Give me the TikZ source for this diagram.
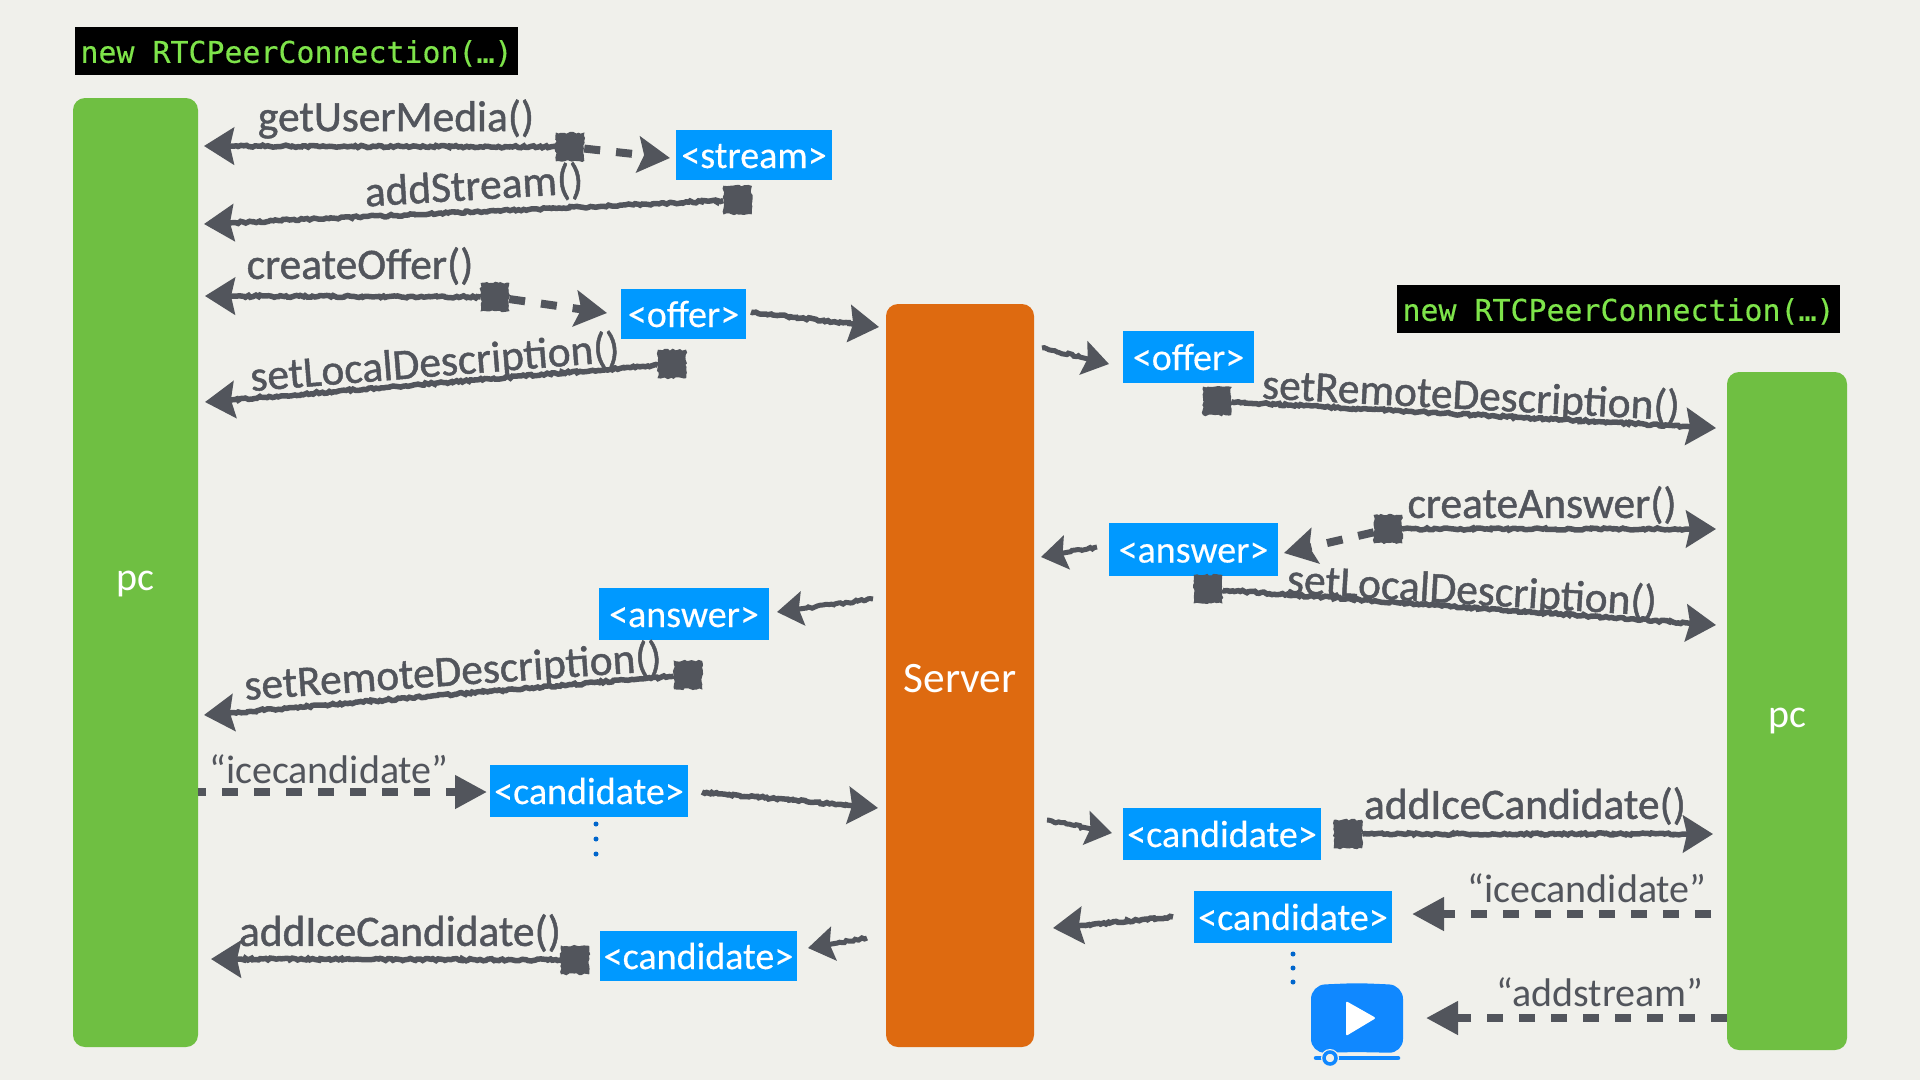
\documentclass[tikz,border=0pt]{standalone}
\usepackage{fontspec}
\setmainfont{Carlito}
\newfontfamily\labfont[RawFeature={embolden=1.1}]{Carlito}
\newfontfamily\msgfont[RawFeature={embolden=0.3}]{Carlito}
\newfontfamily\codefont[RawFeature={embolden=0.4}]{DejaVu Sans Mono}
\usetikzlibrary{arrows.meta,decorations.pathmorphing}
\definecolor{bgc}{RGB}{240,240,235}
\definecolor{pcgreen}{RGB}{111,191,66}
\definecolor{srv}{RGB}{222,106,16}
\definecolor{msg}{RGB}{0,153,255}
\definecolor{ink}{RGB}{82,85,92}
\definecolor{code}{RGB}{126,228,74}
\definecolor{dotc}{RGB}{0,102,204}
\definecolor{iconc}{RGB}{16,136,255}
\tikzset{
  x=1pt,y=-1pt,
  pcbox/.style={fill=pcgreen,rounded corners=12pt,minimum width=125pt,text=white,font=\fontsize{40}{42}\selectfont,inner sep=0pt},
  srvbox/.style={fill=srv,rounded corners=12pt,minimum width=148pt,minimum height=743pt,text=white,font=\fontsize{43.4}{45}\selectfont,inner sep=0pt},
  msgbox/.style={fill=msg,text=white,font=\msgfont\fontsize{38}{40}\selectfont,inner sep=0pt,text height=27pt,text depth=1pt},
  codebox/.style={fill=black,text=code,font=\codefont\fontsize{29.9}{32}\selectfont,minimum width=443pt,minimum height=48pt,inner sep=0pt,text height=25pt,text depth=1.4pt},
  lab/.style={text=ink,font=\labfont\fontsize{43.4}{45}\selectfont,inner sep=0pt},
  evt/.style={text=ink,font=\fontsize{40}{42}\selectfont,inner sep=0pt},
  sq/.style={fill=ink,draw=ink,line width=1.5pt,minimum width=27pt,minimum height=27pt,inner sep=0pt,decorate,decoration={random steps,segment length=2.5pt,amplitude=1pt}},
  rough/.style={draw=ink,line width=5.5pt,decorate,decoration={random steps,segment length=2.5pt,amplitude=1.1pt,post length=30pt},-{Stealth[length=30pt,width=37pt,inset=4pt]}},
  thinrough/.style={draw=ink,line width=5pt,decorate,decoration={random steps,segment length=2.5pt,amplitude=1.1pt,post length=30pt},-{Stealth[length=26pt,width=34pt,inset=4pt]}},
  dash1/.style={draw=ink,line width=8pt,dash pattern=on 16pt off 16pt,-{Stealth[length=32pt,width=36pt,inset=6pt]}},
  dash2/.style={draw=ink,line width=7.5pt,dash pattern=on 16pt off 16pt,-{Stealth[length=32pt,width=32pt,inset=0pt]}},
  dotn/.style={circle,fill=dotc,minimum size=5pt,inner sep=0pt},
}
\begin{document}
\begin{tikzpicture}
\pgfmathsetseed{7}
\useasboundingbox[fill=bgc] (0,0) rectangle (1920,1080);
% code banners
\node[codebox] (codeL) at (296.5,51) {new RTCPeerConnection(…)};
\node[codebox] (codeR) at (1618.5,309) {new RTCPeerConnection(…)};
% lifelines
\node[pcbox,minimum height=949pt] (pcL) at (135.5,572.5) {\smash{\raisebox{-17.5pt}{pc}}};
\node[pcbox,minimum width=120pt,minimum height=678pt] (pcR) at (1787,711) {\smash{\raisebox{-16.5pt}{pc}}};
\node[srvbox] (server) at (960,675.5) {\smash{\raisebox{-16.5pt}{Server}}};
% messages
\node[msgbox,minimum width=156pt,minimum height=50pt] (stream) at (754,155) {<stream>};
\node[msgbox,minimum width=125pt,minimum height=50pt] (offerL) at (683.5,314) {<offer>};
\node[msgbox,minimum width=131pt,minimum height=52pt] (offerR) at (1188.5,357) {<offer>};
\node[msgbox,minimum width=169pt,minimum height=53pt] (answerR) at (1193.5,549.5) {<answer>};
\node[msgbox,minimum width=170pt,minimum height=52pt] (answerL) at (684,614) {<answer>};
\node[msgbox,minimum width=198pt,minimum height=52pt] (candA) at (589,791) {<candidate>};
\node[msgbox,minimum width=197pt,minimum height=50pt] (candB) at (698.5,956) {<candidate>};
\node[msgbox,minimum width=198pt,minimum height=52pt] (candC) at (1222,834) {<candidate>};
\node[msgbox,minimum width=198pt,minimum height=52pt] (candD) at (1293,917) {<candidate>};
% squares
\node[sq] (s1) at (570,147) {};
\node[sq] (s2) at (737.5,200) {};
\node[sq] (s3) at (495,297) {};
\node[sq] (s4) at (672,364) {};
\node[sq] (s5) at (1217,401) {};
\node[sq] (s6) at (1388,529) {};
\node[sq] (s7) at (1208,589) {};
\node[sq] (s8) at (688,675) {};
\node[sq] (s9) at (1348,834) {};
\node[sq] (s10) at (575,960) {};
% connector ends
\coordinate (t1) at (204,146);
\coordinate (t1b) at (670,158);
\coordinate (t2) at (204,224);
\coordinate (t3) at (205,296);
\coordinate (t3b) at (607,313);
\coordinate (a1) at (751,312);
\coordinate (t3c) at (879,327);
\coordinate (t4) at (205,402);
\coordinate (a2) at (1042,348);
\coordinate (t5) at (1109,364);
\coordinate (t6) at (1716,428);
\coordinate (t7) at (1716,529);
\coordinate (t7b) at (1284,553);
\coordinate (a3) at (1097,547);
\coordinate (t8) at (1041,557);
\coordinate (t9) at (1716,625);
\coordinate (a4) at (873,599);
\coordinate (t10) at (777,612);
\coordinate (t11) at (204,715);
\coordinate (a5) at (198,792);
\coordinate (t12) at (487,792);
\coordinate (a6) at (702,792);
\coordinate (t13) at (878,808);
\coordinate (a7) at (1047,820);
\coordinate (t14) at (1112,833);
\coordinate (t15) at (1713,834);
\coordinate (a8) at (1711,914);
\coordinate (t16) at (1412,914);
\coordinate (a9) at (1173,917);
\coordinate (t17) at (1053,928);
\coordinate (a10) at (1727,1018);
\coordinate (t18) at (1426,1018);
\coordinate (a11) at (867,938);
\coordinate (t19) at (808,948);
\coordinate (t20) at (211,959);
% connectors
\draw[rough] (s1) -- (t1);
\draw[dash1] (s1) -- (t1b);
\draw[rough] (s2) -- (t2);
\draw[rough] (s3) -- (t3);
\draw[dash1] (s3) -- (t3b);
\draw[rough] (a1) -- (t3c);
\draw[rough] (s4) -- (t4);
\draw[thinrough] (a2) -- (t5);
\draw[rough] (s5) -- (t6);
\draw[rough] (s6) -- (t7);
\draw[dash1] (s6) -- (t7b);
\draw[thinrough] (a3) -- (t8);
\draw[rough] (s7) -- (t9);
\draw[thinrough] (a4) -- (t10);
\draw[rough] (s8) -- (t11);
\draw[dash2,dash phase=8pt] (a5) -- (t12);
\draw[rough] (a6) -- (t13);
\draw[thinrough] (a7) -- (t14);
\draw[rough] (s9) -- (t15);
\draw[dash2] (a8) -- (t16);
\draw[rough] (a9) -- (t17);
\draw[dash2] (a10) -- (t18);
\draw[thinrough] (a11) -- (t19);
\draw[rough] (s10) -- (t20);
% labels
\node[lab] (l1) at (396,119) {getUserMedia()};
\node[lab,rotate=3.5] (l2) at (474,187) {addStream()};
\node[lab] (l3) at (360,266) {createOffer()};
\node[lab,rotate=4.6] (l4) at (435,364) {setLocalDescription()};
\node[lab,rotate=-3] (l5) at (1471,397) {setRemoteDescription()};
\node[lab] (l6) at (1542,505) {createAnswer()};
\node[lab,rotate=-3.5] (l7) at (1472,592) {setLocalDescription()};
\node[lab,rotate=4] (l8) at (453,673) {setRemoteDescription()};
\node[evt] (l9) at (329,769) {“icecandidate”};
\node[lab] (l10) at (400,933) {addIceCandidate()};
\node[lab] (l11) at (1525,806) {addIceCandidate()};
\node[evt] (l12) at (1587,888) {“icecandidate”};
\node[evt] (l13) at (1600,992) {“addstream”};
% ellipses
\node[dotn] (d1) at (596,824) {};
\node[dotn] (d2) at (596,839) {};
\node[dotn] (d3) at (596,854) {};
\node[dotn] (d4) at (1293,954) {};
\node[dotn] (d5) at (1293,968) {};
\node[dotn] (d6) at (1293,982) {};
% video icon
\fill[iconc,rounded corners=14pt] (1311,985) -- (1357,983) -- (1403,985) -- (1403,1053) -- (1357,1052) -- (1311,1053) -- cycle;
\fill[white,rounded corners=2pt] (1346,1001) -- (1376,1018) -- (1346,1036) -- cycle;
\draw[iconc,line width=4.5pt,line cap=round] (1316,1058) -- (1398,1058);
\fill[bgc] (1330,1058) circle (9pt);
\draw[iconc,line width=3.5pt] (1330,1058) circle (6pt);
\end{tikzpicture}
\end{document}
